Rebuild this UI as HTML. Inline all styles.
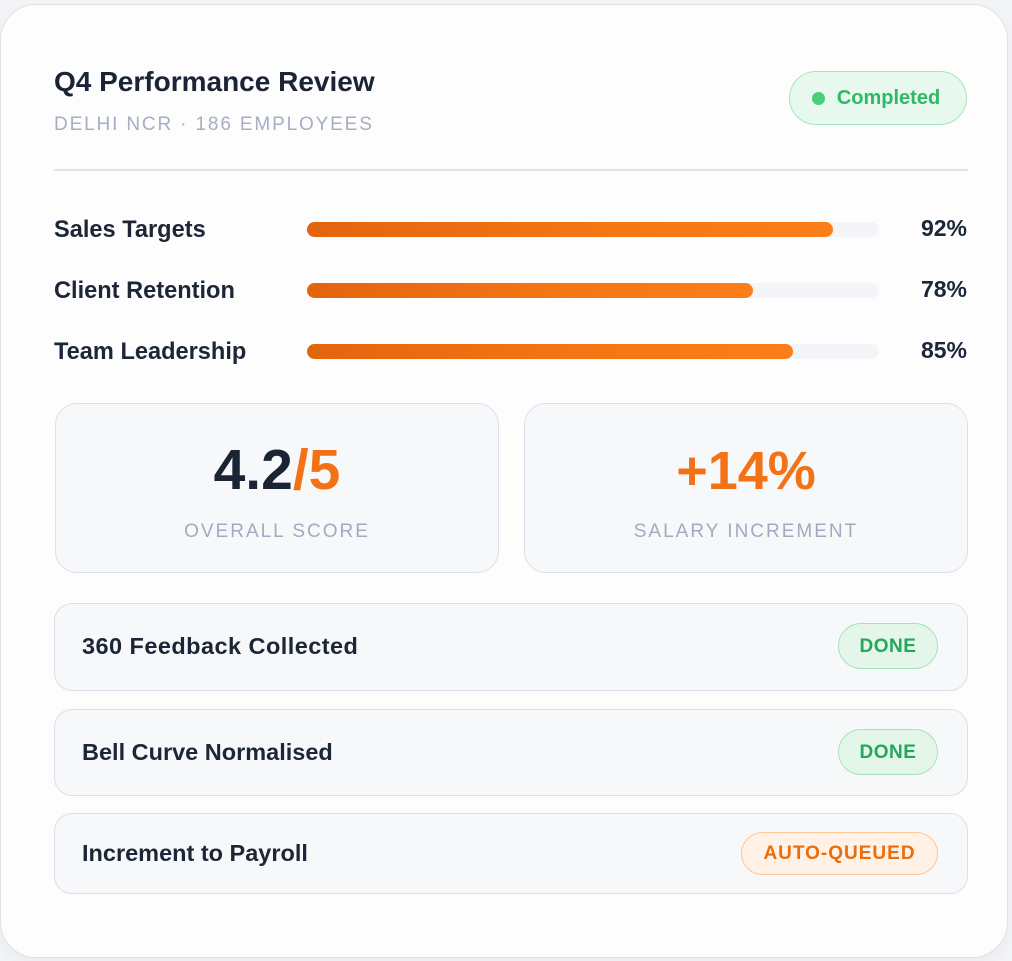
<!DOCTYPE html>
<html>
<head>
<meta charset="utf-8">
<style>
  html,body{margin:0;padding:0;}
  body{width:1012px;height:961px;background:#f4f5f7;position:relative;overflow:hidden;font-family:"Liberation Sans",Arial,sans-serif;}
  .card{position:absolute;left:0;top:4px;width:1006px;height:952px;background:#fdfdfe;border:1.5px solid #dde1ea;border-radius:36px;box-shadow:0 6px 18px rgba(30,40,60,0.05);}
  .abs{position:absolute;white-space:nowrap;line-height:1;}
  .title{left:54px;top:68px;font-size:28px;font-weight:700;color:#1a2435;}
  .sub{left:54px;top:115px;font-size:19px;letter-spacing:1.85px;color:#a5afc3;}
  .pill{position:absolute;display:flex;align-items:center;justify-content:center;border-radius:999px;box-sizing:border-box;font-weight:700;white-space:nowrap;line-height:1;}
  .completed{left:789px;top:71px;width:178px;height:54px;background:#e7f8ee;border:1.5px solid #a9e4bf;color:#30b866;font-size:20px;}
  .completed .dot{width:13px;height:13px;border-radius:50%;background:#4ccd7d;margin-right:12px;margin-left:-4px;}
  .divider{position:absolute;left:54px;top:169px;width:914px;height:1.5px;background:#dfe3ea;}
  .lbl{left:54px;font-size:23.6px;font-weight:700;color:#1c2637;}
  .pct{right:45px;font-size:23px;font-weight:700;color:#1c2637;text-align:right;}
  .track{position:absolute;left:307px;width:572px;height:15px;border-radius:8px;background:#f3f5f8;}
  .fill{position:absolute;left:0;top:0;height:15px;border-radius:8px;background:linear-gradient(90deg,#e2650e 0%,#f27414 50%,#fc7e19 100%);}
  .box{position:absolute;top:403px;width:444px;height:170px;box-sizing:border-box;background:#f7f8fa;border:1.5px solid #dbdfe9;border-radius:22px;}
  .big{position:absolute;left:0;right:0;top:38px;text-align:center;font-size:57px;font-weight:700;line-height:1;color:#1a2435;}
  .cap{position:absolute;left:0;right:0;top:118px;text-align:center;font-size:19px;letter-spacing:2px;line-height:1;color:#a1abbf;}
  .row{position:absolute;left:54px;width:914px;box-sizing:border-box;background:#f7f8fa;border:1.5px solid #dbdfe9;border-radius:18px;display:flex;align-items:center;}
  .row .t{position:absolute;left:27px;font-size:23.5px;font-weight:700;color:#1c2637;line-height:1;white-space:nowrap;}
  .done{background:#e4f6ea;border:1.5px solid #a8e2bc;color:#23a75a;font-size:19px;letter-spacing:0.5px;}
  .queued{background:#fff1e5;border:1.5px solid #fcc796;color:#ea6d0c;font-size:19px;letter-spacing:1px;}
</style>
</head>
<body>
<div class="card"></div>

<div class="abs title">Q4 Performance Review</div>
<div class="abs sub">DELHI NCR · 186 EMPLOYEES</div>
<div class="pill completed"><span class="dot"></span>Completed</div>
<div class="divider"></div>

<div class="abs lbl" style="top:219px;">Sales Targets</div>
<div class="track" style="top:222px;"><div class="fill" style="width:526px;"></div></div>
<div class="abs pct" style="top:217px;">92%</div>

<div class="abs lbl" style="top:280px;">Client Retention</div>
<div class="track" style="top:283px;"><div class="fill" style="width:446px;"></div></div>
<div class="abs pct" style="top:278px;">78%</div>

<div class="abs lbl" style="top:341px;">Team Leadership</div>
<div class="track" style="top:344px;"><div class="fill" style="width:486px;"></div></div>
<div class="abs pct" style="top:339px;">85%</div>

<div class="box" style="left:55px;">
  <div class="big">4.2<span style="color:#f47216;">/5</span></div>
  <div class="cap">OVERALL SCORE</div>
</div>
<div class="box" style="left:524px;">
  <div class="big" style="color:#f47216;font-size:54px;top:40px;">+14%</div>
  <div class="cap">SALARY INCREMENT</div>
</div>

<div class="row" style="top:603px;height:88px;">
  <div class="t" style="letter-spacing:0.45px;">360 Feedback Collected</div>
</div>
<div class="pill done" style="left:838px;top:623px;width:100px;height:46px;">DONE</div>

<div class="row" style="top:709px;height:87px;">
  <div class="t">Bell Curve Normalised</div>
</div>
<div class="pill done" style="left:838px;top:729px;width:100px;height:46px;">DONE</div>

<div class="row" style="top:813px;height:81px;">
  <div class="t">Increment to Payroll</div>
</div>
<div class="pill queued" style="left:741px;top:832px;width:197px;height:43px;">AUTO-QUEUED</div>

</body>
</html>
